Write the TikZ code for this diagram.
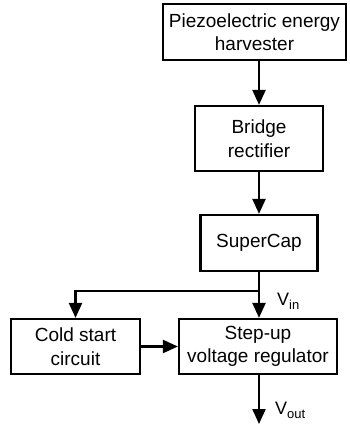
\documentclass[tikz,border=0pt]{standalone}
\usepackage{fontspec}
\setmainfont{Liberation Sans}
\usepackage{xcolor}
\usepackage{tikz}
\usetikzlibrary{arrows.meta,positioning}
\definecolor{ink}{HTML}{000000}
\definecolor{paper}{HTML}{FFFFFF}
\tikzset{
  blockBox/.style={draw=ink, fill=paper, line width=2.2pt, align=center, inner sep=0pt,
                   font=\fontsize{19}{23.5}\selectfont},
  flowLine/.style={draw=ink, line width=2.2pt},
  flowArrow/.style={flowLine, -{Triangle[length=15pt,width=13pt]}},
  sigLbl/.style={text=ink, inner sep=0pt, anchor=base west, font=\fontsize{18}{20}\selectfont},
}
\newcommand{\sigSub}[1]{\raisebox{-0.45ex}{\fontsize{13}{13}\selectfont #1}}
\begin{document}
\begin{tikzpicture}[x=1pt,y=-1pt]
  \useasboundingbox (0,0) rectangle (349,425);

  % blocks
  \node[blockBox, minimum width=183pt, minimum height=56pt] (harv)  at (254.5,32)  {Piezoelectric energy\\harvester};
  \node[blockBox, minimum width=128pt, minimum height=65pt] (rect)  at (259,138.5) {Bridge\\rectifier};
  \node[blockBox, minimum width=117pt, minimum height=56pt] (cap)   at (259,243)   {SuperCap};
  \node[blockBox, minimum width=129pt, minimum height=55pt] (cold)  at (75.5,346.5) {Cold start\\circuit};
  \node[blockBox, minimum width=158pt, minimum height=55pt] (step)  at (258,346.5) {Step-up\\voltage regulator};

  \coordinate (split) at (259,291);
  \coordinate (out)   at (259,424);

  % connectors
  \draw[flowArrow] (rect.north |- harv.south) -- (rect.north);
  \draw[flowArrow] (rect.south) -- (rect.south |- cap.north);
  \draw[flowLine]  (cap.south) -- (split);
  \draw[flowArrow] (split) -- (split |- step.north);
  \draw[flowArrow] (split) -| (cold.north);
  \draw[flowArrow] (cold.east) -- (step.west);
  \draw[flowArrow] (split |- step.south) -- (out);

  \node[sigLbl] (vin)  at (277,305) {V\sigSub{in}};
  \node[sigLbl] (vout) at (275,414) {V\sigSub{out}};
\end{tikzpicture}
\end{document}
